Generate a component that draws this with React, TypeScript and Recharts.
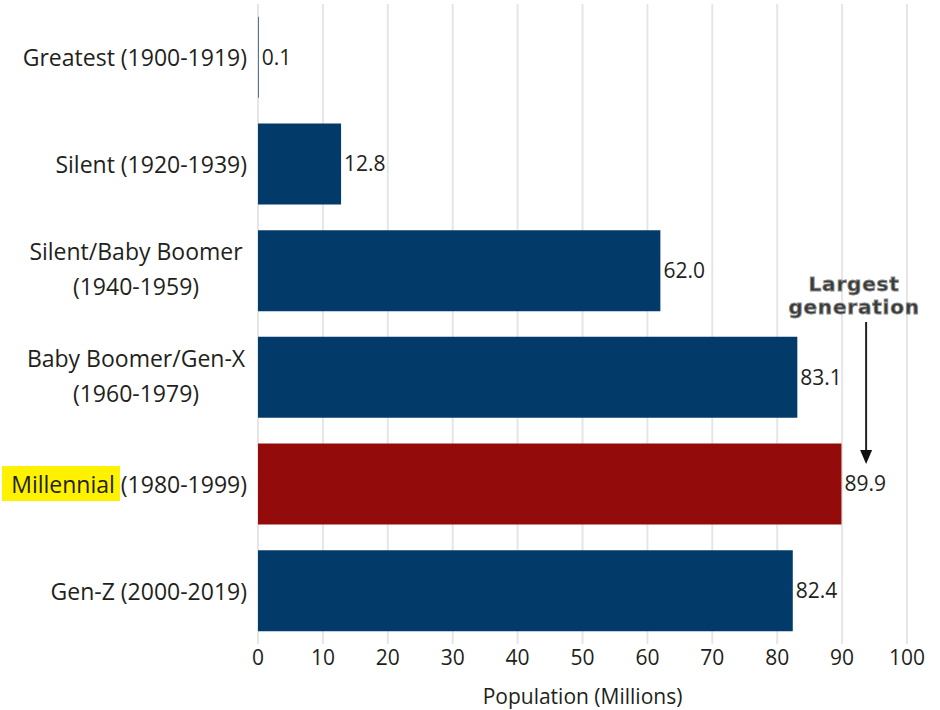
import React from "react";
import { BarChart, Bar, XAxis, YAxis, CartesianGrid, Cell, LabelList, ReferenceLine } from "recharts";

const categories = [
  "Greatest (1900-1919)",
  "Silent (1920-1939)",
  "Silent/Baby Boomer (1940-1959)",
  "Baby Boomer/Gen-X (1960-1979)",
  "Millennial (1980-1999)",
  "Gen-Z (2000-2019)",
];
const tickLines: string[][] = [
  ["Greatest (1900-1919)"],
  ["Silent (1920-1939)"],
  ["Silent/Baby Boomer", "(1940-1959)"],
  ["Baby Boomer/Gen-X", "(1960-1979)"],
  ["Millennial (1980-1999)"],
  ["Gen-Z (2000-2019)"],
];
const population = [0.1, 12.8, 62.0, 83.1, 89.9, 82.4];
const xTicks = [0, 10, 20, 30, 40, 50, 60, 70, 80, 90, 100];
const highlightCategory = "Millennial (1980-1999)";
const highlightWord = "Millennial";
const annotationX = 93.7;

const NAVY = "#023a6a";
const RED = "#940b0b";
const TEXT = "#231f20";
const FONT = "'Open Sans', sans-serif";

const data = categories.map((c, i) => ({ category: c, value: population[i] }));

const YTick = (props: any) => {
  const { x, y, payload } = props;
  const lines = tickLines[categories.indexOf(payload.value)] || [payload.value];
  const right = x - 11;
  const fs = 23;
  if (payload.value === highlightCategory) {
    const rest = payload.value.slice(highlightWord.length);
    return (
      <g>
        <rect x={right - 245} y={y - 18} width={118} height={35} fill="#fff200" />
        <text x={right} y={y} textAnchor="end" dominantBaseline="central" fill={TEXT} fontSize={fs} fontFamily={FONT}>
          <tspan>{highlightWord}</tspan>
          <tspan>{rest}</tspan>
        </text>
      </g>
    );
  }
  if (lines.length === 1) {
    return (
      <text x={right} y={y} textAnchor="end" dominantBaseline="central" fill={TEXT} fontSize={fs} fontFamily={FONT}>
        {lines[0]}
      </text>
    );
  }
  const cx = right - 111;
  const lh = 35;
  const startDy = -((lines.length - 1) * lh) / 2 - 2;
  return (
    <text x={cx} y={y} textAnchor="middle" fill={TEXT} fontSize={fs} fontFamily={FONT}>
      {lines.map((l, i) => (
        <tspan key={i} x={cx} dy={i === 0 ? startDy : lh} dominantBaseline="central">
          {l}
        </tspan>
      ))}
    </text>
  );
};

const Annotation = (props: any) => {
  const { x1, y1, y2 } = props;
  const x = x1;
  const t = Math.min(y1, y2);
  const top = t + 318;
  const tip = t + 460;
  const textProps = {
    textAnchor: "middle" as const,
    fontFamily: "'DejaVu Sans', sans-serif",
    fontWeight: 700,
    fontSize: 20,
    letterSpacing: 0.8,
    fill: "#3a3a3a",
    stroke: "#8a8a8a",
    strokeWidth: 0.8,
  };
  return (
    <g>
      <text x={x - 12} y={t + 287} {...textProps}>
        Largest
      </text>
      <text x={x - 12} y={t + 310} {...textProps}>
        generation
      </text>
      <line x1={x} y1={top} x2={x} y2={tip - 12} stroke="#222" strokeWidth={2} />
      <polygon points={`${x - 6},${tip - 14} ${x + 6},${tip - 14} ${x},${tip}`} fill="#111" />
    </g>
  );
};

export default function App() {
  return (
    <div style={{ position: "absolute", left: 0, top: 0, width: 940, height: 710, background: "#fff" }}>
      <BarChart
        width={940}
        height={710}
        data={data}
        layout="vertical"
        margin={{ top: 4, right: 33, bottom: 0, left: 0 }}
        barCategoryGap="12%"
      >
        <CartesianGrid horizontal={false} vertical stroke="#e6e6e6" strokeWidth={2} />
        <XAxis
          type="number"
          domain={[0, 100]}
          ticks={xTicks}
          axisLine={false}
          tickLine={false}
          height={66}
          tick={{ fill: TEXT, fontSize: 21, fontFamily: FONT, dy: -2 }}
          label={{ value: "Population (Millions)", position: "insideBottom", offset: 6, fill: TEXT, fontSize: 21, fontFamily: FONT }}
        />
        <YAxis
          type="category"
          dataKey="category"
          width={258}
          axisLine={false}
          tickLine={false}
          tickSize={0}
          tickMargin={0}
          tick={<YTick />}
          interval={0}
        />
        <ReferenceLine x={annotationX} stroke="none" shape={<Annotation />} ifOverflow="visible" />
        <Bar dataKey="value" isAnimationActive={false}>
          {data.map((d) => (
            <Cell key={d.category} fill={d.category === highlightCategory ? RED : NAVY} />
          ))}
          <LabelList
            dataKey="value"
            position="right"
            offset={3}
            formatter={(v: any) => Number(v).toFixed(1)}
            fill={TEXT}
            fontSize={21}
            fontFamily={FONT}
          />
        </Bar>
      </BarChart>
    </div>
  );
}
